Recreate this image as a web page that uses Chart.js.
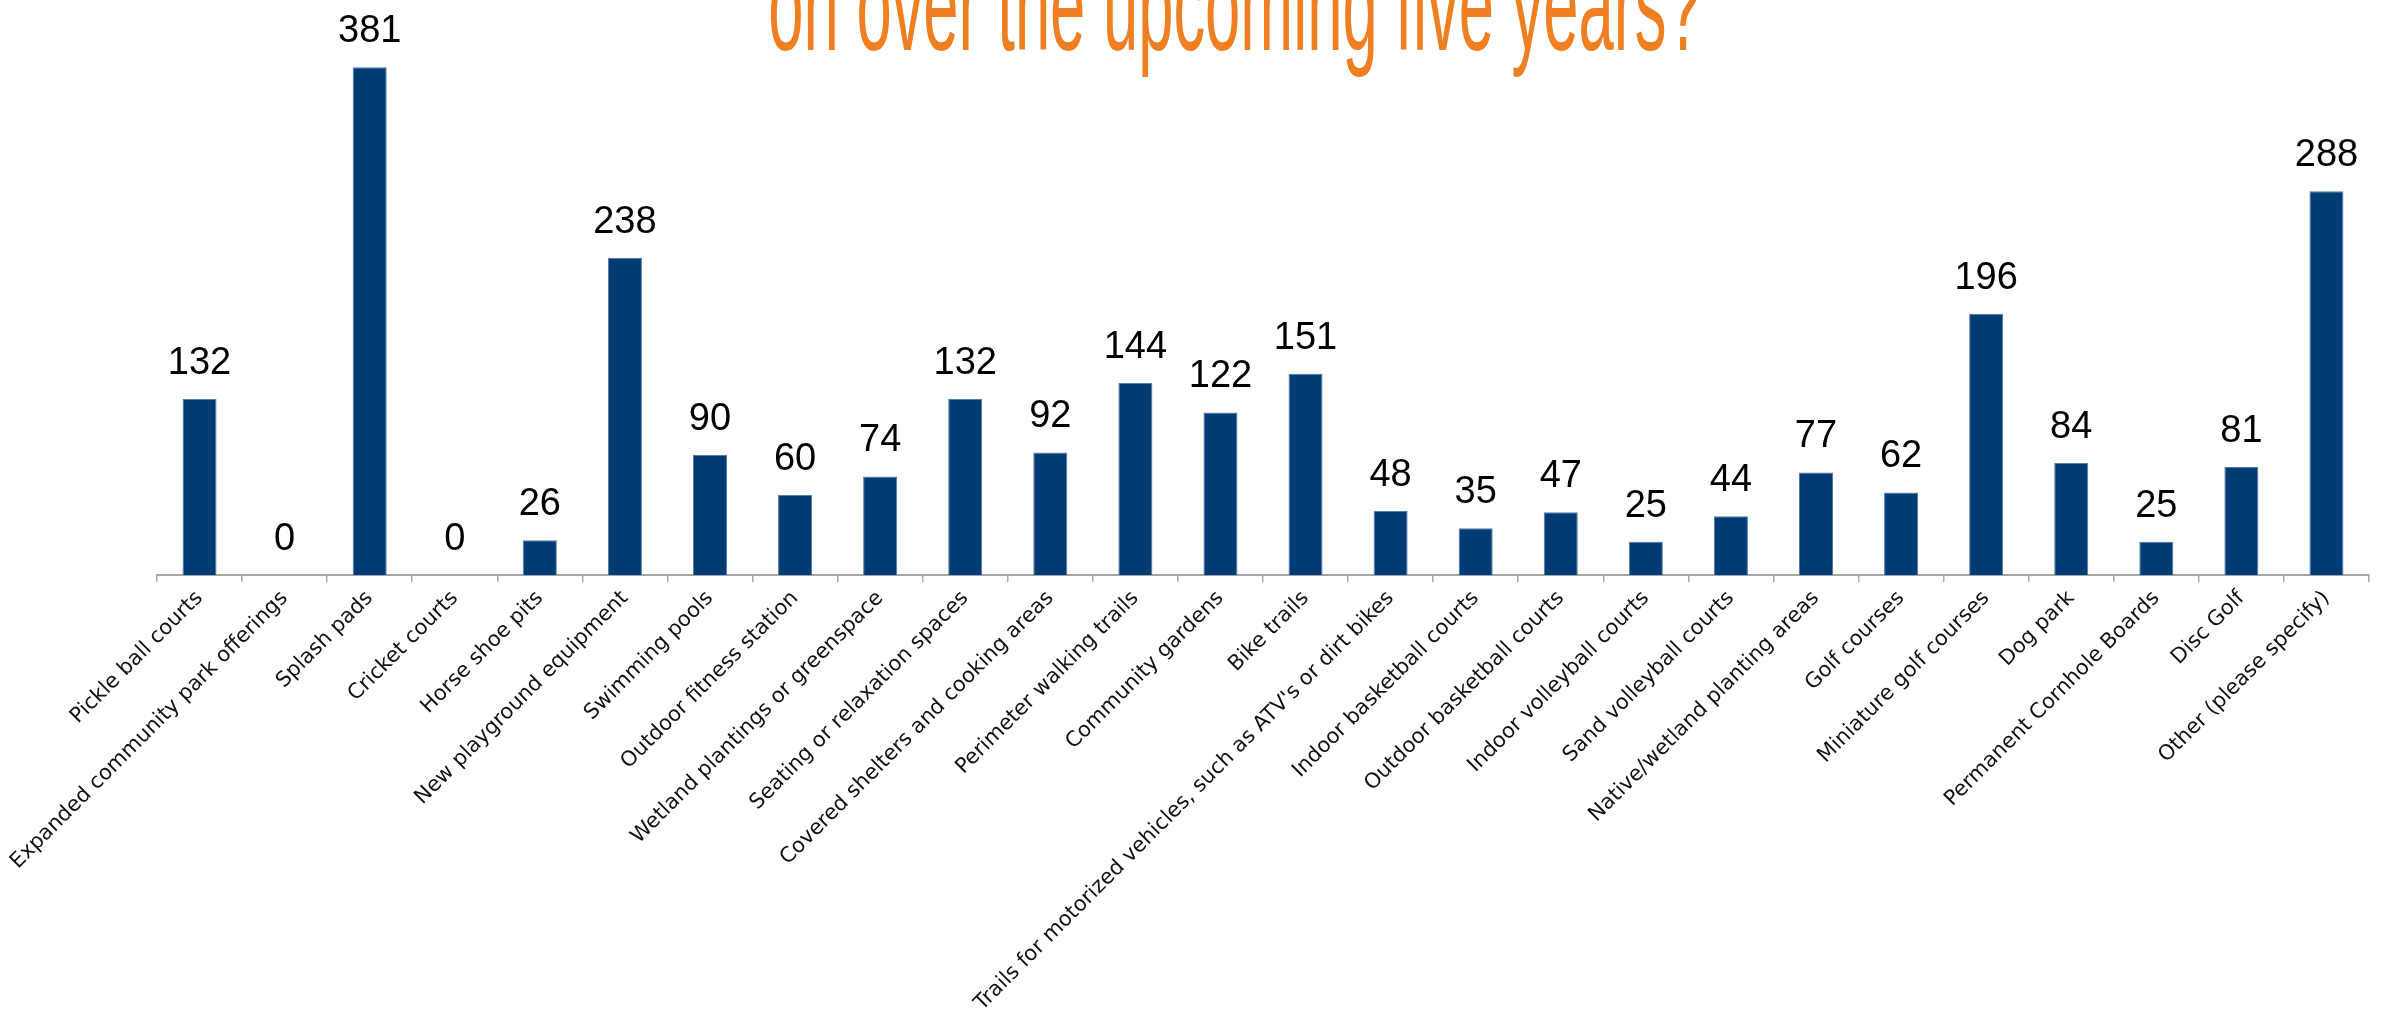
<!DOCTYPE html>
<html>
<head>
<meta charset="utf-8">
<script src="https://cdn.jsdelivr.net/npm/chart.js@4/dist/chart.umd.min.js"></script>
<style>
  html, body { margin: 0; padding: 0; background: #ffffff; }
  #wrap { width: 2386px; height: 1017px; position: relative; overflow: hidden; }
  canvas { display: block; }
</style>
</head>
<body>
<div id="wrap"><canvas id="c" width="2386" height="1017"></canvas></div>
<script>
const titleText = "on over the upcoming five years?";

const categories = [
  "Pickle ball courts",
  "Expanded community park offerings",
  "Splash pads",
  "Cricket courts",
  "Horse shoe pits",
  "New playground equipment",
  "Swimming pools",
  "Outdoor fitness station",
  "Wetland plantings or greenspace",
  "Seating or relaxation spaces",
  "Covered shelters and cooking areas",
  "Perimeter walking trails",
  "Community gardens",
  "Bike trails",
  "Trails for motorized vehicles, such as ATV's or dirt bikes",
  "Indoor basketball courts",
  "Outdoor basketball courts",
  "Indoor volleyball courts",
  "Sand volleyball courts",
  "Native/wetland planting areas",
  "Golf courses",
  "Miniature golf courses",
  "Dog park",
  "Permanent Cornhole Boards",
  "Disc Golf",
  "Other (please specify)"
];

const counts = [132, 0, 381, 0, 26, 238, 90, 60, 74, 132, 92, 144, 122, 151, 48, 35, 47, 25, 44, 77, 62, 196, 84, 25, 81, 288];

const yMin = 0;
const yMax = 400;

const valueLabelPlugin = {
  id: 'valueLabels',
  afterDatasetsDraw(chart) {
    const ctx = chart.ctx;
    const meta = chart.getDatasetMeta(0);
    const data = chart.data.datasets[0].data;
    ctx.save();
    ctx.font = '38px "Liberation Sans", Arial, sans-serif';
    ctx.fillStyle = '#000000';
    ctx.textAlign = 'center';
    ctx.textBaseline = 'alphabetic';
    meta.data.forEach((bar, i) => {
      ctx.fillText(String(data[i]), bar.x, bar.y - 25);
    });
    ctx.restore();
  }
};

const clippedTitlePlugin = {
  id: 'clippedTitle',
  afterDraw(chart) {
    const ctx = chart.ctx;
    ctx.save();
    ctx.font = '132px "Liberation Sans", Arial, sans-serif';
    ctx.fillStyle = '#F07F22';
    ctx.textAlign = 'center';
    ctx.textBaseline = 'alphabetic';
    const sx = 0.48;
    ctx.translate(1235, 50);
    ctx.scale(sx, 1);
    ctx.fillText(titleText, 0, 0);
    ctx.restore();
  }
};

new Chart(document.getElementById('c'), {
  type: 'bar',
  data: {
    labels: categories,
    datasets: [{
      data: counts,
      backgroundColor: '#003B73',
      borderColor: '#5479A6',
      borderWidth: 1,
      categoryPercentage: 0.8,
      barPercentage: 0.5
    }]
  },
  options: {
    responsive: false,
    animation: false,
    devicePixelRatio: 1,
    layout: { padding: { left: 157, right: 17, top: 42, bottom: 0 } },
    plugins: {
      legend: { display: false },
      title: { display: false },
      tooltip: { enabled: false }
    },
    scales: {
      x: {
        afterFit(scale) { scale.height = 442; },
        grid: {
          offset: true,
          drawOnChartArea: false,
          drawTicks: true,
          tickLength: 7,
          color: '#A6A6A6',
          lineWidth: 1.5
        },
        border: { display: true, color: '#A6A6A6', width: 2 },
        ticks: {
          autoSkip: false,
          minRotation: 45,
          maxRotation: 45,
          padding: 4,
          color: '#111111',
          font: { family: '"DejaVu Sans", Verdana, sans-serif', size: 21 }
        }
      },
      y: {
        display: false,
        min: yMin,
        max: yMax
      }
    }
  },
  plugins: [valueLabelPlugin, clippedTitlePlugin]
});
</script>
</body>
</html>
